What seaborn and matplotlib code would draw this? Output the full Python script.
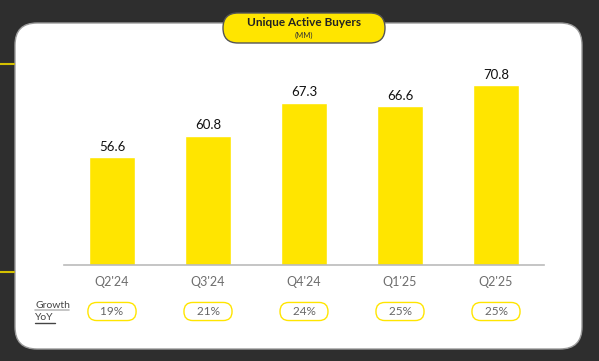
import matplotlib
matplotlib.use('Agg')
import pandas as pd
import numpy as np
import matplotlib.pyplot as plt
import matplotlib.transforms as mtransforms
from matplotlib.patches import FancyBboxPatch
import seaborn as sns

quarters = ["Q2'24", "Q3'24", "Q4'24", "Q1'25", "Q2'25"]
buyers = [56.6, 60.8, 67.3, 66.6, 70.8]
growth = ['19%', '21%', '24%', '25%', '25%']

YELLOW = '#FFE500'
DARK = '#2e2e2e'

sns.set_style('white')
plt.rcParams['font.family'] = ['Lato', 'DejaVu Sans']

W, H = 599, 361
fig = plt.figure(figsize=(W / 100, H / 100), dpi=100, facecolor=DARK)

# background layer in pixel coordinates
bg = fig.add_axes([0, 0, 1, 1])
bg.set_xlim(0, W)
bg.set_ylim(H, 0)
bg.axis('off')
bg.add_patch(FancyBboxPatch((15, 23), 567, 326, boxstyle='round,pad=0,rounding_size=22',
                            facecolor='white', edgecolor='#9a9a9a', lw=1))
bg.plot([0, 14], [64, 64], color='#d4c000', lw=1.5)
bg.plot([0, 14], [272, 272], color='#d4c000', lw=1.5)
bg.add_patch(FancyBboxPatch((223, 13), 162, 30, boxstyle='round,pad=0,rounding_size=15',
                            facecolor=YELLOW, edgecolor='#555555', lw=1))
bg.text(304, 22, 'Unique Active Buyers', ha='center', va='center', fontsize=8.5,
        fontweight='bold', color='#222222')
bg.text(304, 35, '(MM)', ha='center', va='center', fontsize=5.5, color='#333333')
bg.text(35, 305, 'Growth', ha='left', va='center', fontsize=7.5, color='#444444')
bg.text(35, 318, 'YoY', ha='left', va='center', fontsize=7.5, color='#444444')
bg.plot([35, 69], [310, 310], color='#bbbbbb', lw=1.2)
bg.plot([35, 55], [323, 323], color='#444444', lw=1)

# bar chart
ax = fig.add_axes([64 / W, 1 - 265 / H, 480 / W, 230 / H])
ax.patch.set_alpha(0)
df = pd.DataFrame({'quarter': quarters, 'buyers': buyers})
sns.barplot(data=df, x='quarter', y='buyers', color=YELLOW, width=0.48,
            saturation=1, ax=ax)
ax.set_ylim(35.3, 80.6)
ax.set_xlim(-0.5, 4.5)
ax.bar_label(ax.containers[0], labels=[f'{v:.1f}' for v in buyers], padding=3,
             fontsize=9.5, color='#111111')
ax.set_xlabel('')
ax.set_ylabel('')
ax.set_yticks([])
ax.tick_params(axis='x', length=0, pad=8, labelsize=9, labelcolor='#6e6e6e')
for s in ['top', 'right', 'left']:
    ax.spines[s].set_visible(False)
ax.spines['bottom'].set_color('#bbbbbb')
ax.spines['bottom'].set_linewidth(1.2)

# growth pills placed under each category
trans = mtransforms.blended_transform_factory(ax.transData, fig.transFigure)
for i, g in enumerate(growth):
    ax.text(i, 1 - 311.5 / H, f'   {g}   ', transform=trans, ha='center', va='center',
            fontsize=8.5, color='#666666', clip_on=False,
            bbox=dict(boxstyle='round,pad=0.3,rounding_size=0.75', facecolor='white',
                      edgecolor=YELLOW, lw=1.0))

fig.savefig('out.png', dpi=100, facecolor=DARK)
